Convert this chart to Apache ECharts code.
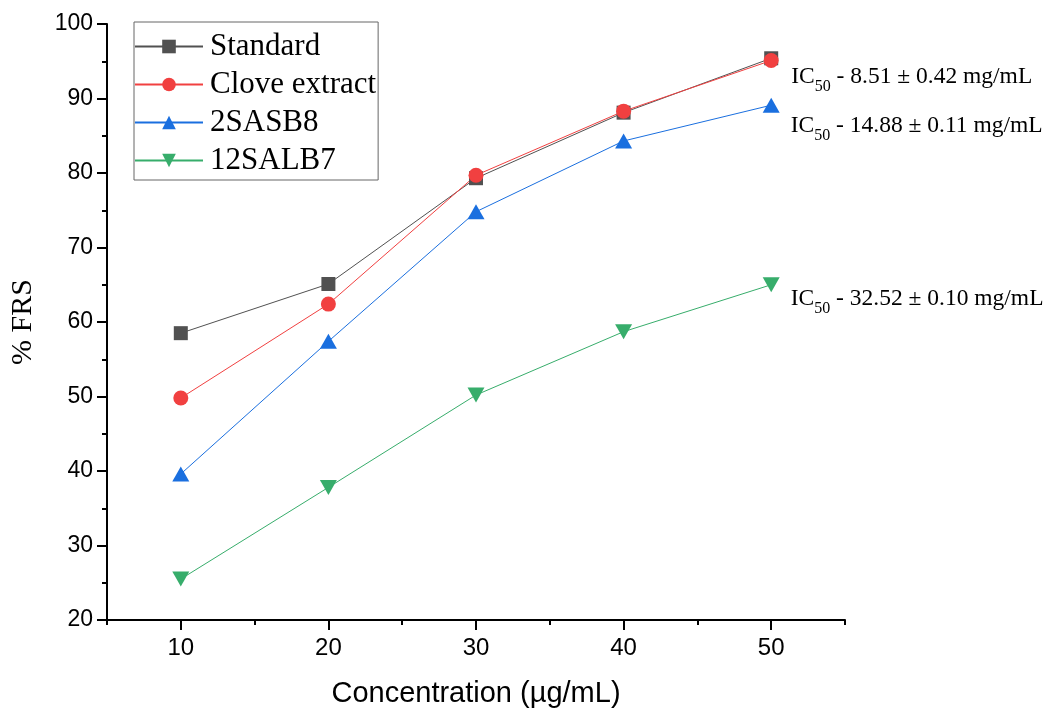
<!DOCTYPE html>
<html>
    <head>
        <meta charset="utf-8">
        <script src="https://cdn.jsdelivr.net/npm/echarts@6/dist/echarts.min.js"></script>
    </head>
    <body style="margin:0">
        <style>
            html, body, #main {
                width: 100%;
                height: 100%;
            }
        </style>
        <div id="main"></div>
        <script>
            // concentration (ug/mL) and % FRS for each sample
            var concentration = [10, 20, 30, 40, 50];
            var standard = [58.5, 65.1, 79.3, 88.1, 95.4];
            var clove = [49.8, 62.4, 79.7, 88.3, 95.1];
            var sasb8 = [39.6, 57.4, 74.8, 84.3, 89.1];
            var salb7 = [25.5, 37.8, 50.2, 58.7, 65.0];

            var majorX = [10, 20, 30, 40, 50];
            var minorX = [5, 15, 25, 35, 45, 55];

            // IC50 notes, put next to the last point of a series
            var ic50 = {
                'Standard': '8.51 ± 0.42',
                '2SASB8': '14.88 ± 0.11',
                '12SALB7': '32.52 ± 0.10'
            };
            var ic50Dy = { 'Standard': 20, '2SASB8': 22, '12SALB7': 16 };
            var ic50Dx = { 'Standard': 13, '2SASB8': 11, '12SALB7': 11 };

            var serif = 'Liberation Serif, Times New Roman, serif';
            var sans = 'Liberation Sans, Arial, sans-serif';

            function makeSeries(name, values, color, symbol, size, rotate) {
                var data = values.map(function (v, i) {
                    var item = { value: [concentration[i], v] };
                    if (i === values.length - 1 && ic50[name]) {
                        item.label = {
                            show: true,
                            position: 'right',
                            distance: ic50Dx[name],
                            offset: [0, ic50Dy[name]],
                            formatter: '{a|IC}{b|50}{a| - ' + ic50[name] + ' mg/mL}',
                            rich: {
                                a: { fontFamily: serif, fontSize: 23.5, color: '#000', lineHeight: 27, verticalAlign: 'top' },
                                b: { fontFamily: serif, fontSize: 16, color: '#000', lineHeight: 16, verticalAlign: 'top', padding: [14, 0, 0, 0] }
                            }
                        };
                    }
                    return item;
                });
                return {
                    name: name,
                    type: 'line',
                    data: data,
                    symbol: symbol,
                    symbolSize: size,
                    symbolRotate: rotate || 0,
                    itemStyle: { color: color },
                    lineStyle: { color: color, width: 1 },
                    emphasis: { disabled: true },
                    z: 2
                };
            }

            var chart = echarts.init(document.getElementById('main'));

            chart.setOption({
                animation: false,
                backgroundColor: '#fff',
                grid: { left: 107, right: 203, top: 24, bottom: 92, containLabel: false, outerBoundsMode: 'none' },
                legend: {
                    orient: 'vertical',
                    left: 134,
                    top: 22,
                    itemWidth: 68,
                    itemHeight: 17,
                    itemGap: 7,
                    padding: [9, 2, 4, 0],
                    borderColor: '#666',
                    borderWidth: 1,
                    textStyle: { fontFamily: serif, fontSize: 31, color: '#000', padding: [0, 0, 0, 2] },
                    data: ['Standard', 'Clove extract', '2SASB8', '12SALB7']
                },
                xAxis: [{
                    type: 'value',
                    min: 5,
                    max: 55,
                    name: 'Concentration (µg/mL)',
                    nameLocation: 'middle',
                    nameGap: 59,
                    nameTextStyle: { fontFamily: sans, fontSize: 29, color: '#000' },
                    splitLine: { show: false },
                    axisLine: { onZero: false, lineStyle: { color: '#000', width: 2 } },
                    axisTick: { customValues: majorX, length: 10, lineStyle: { color: '#000', width: 2 } },
                    axisLabel: {
                        customValues: majorX,
                        margin: 16,
                        fontFamily: 'Liberation Sans Narrow, Liberation Sans, Arial, sans-serif',
                        fontSize: 24,
                        color: '#000'
                    }
                }, {
                    type: 'value',
                    min: 5,
                    max: 55,
                    position: 'bottom',
                    splitLine: { show: false },
                    axisLine: { show: false },
                    axisTick: { customValues: minorX, length: 5, lineStyle: { color: '#000', width: 2 } },
                    axisLabel: { show: false }
                }],
                yAxis: {
                    type: 'value',
                    min: 20,
                    max: 100,
                    interval: 10,
                    name: '% FRS',
                    nameLocation: 'middle',
                    nameGap: 69,
                    nameTextStyle: { fontFamily: serif, fontSize: 30, color: '#000' },
                    splitLine: { show: false },
                    axisLine: { show: true, lineStyle: { color: '#000', width: 2 } },
                    axisTick: { length: 10, lineStyle: { color: '#000', width: 2 } },
                    minorTick: { show: true, splitNumber: 2, length: 5, lineStyle: { color: '#000', width: 2 } },
                    minorSplitLine: { show: false },
                    axisLabel: { margin: 14, fontFamily: sans, fontSize: 23, color: '#000' }
                },
                series: [
                    makeSeries('Standard', standard, '#515151', 'rect', 14),
                    makeSeries('Clove extract', clove, '#F14040', 'circle', 15),
                    makeSeries('2SASB8', sasb8, '#1A6FDF', 'triangle', [17, 15]),
                    makeSeries('12SALB7', salb7, '#37AD6B', 'triangle', [17, 15], 180)
                ]
            });
        </script>
    </body>
</html>
